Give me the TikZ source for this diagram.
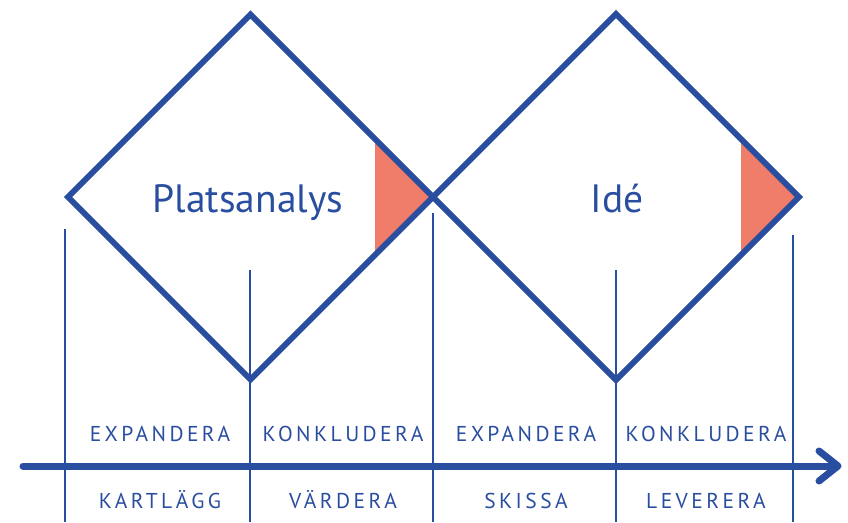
\documentclass[tikz,border=0pt]{standalone}
\usepackage{fontspec}
\setmainfont{PT Sans}
\newfontfamily\labfont[LetterSpace=16]{PT Sans}
\definecolor{dblue}{HTML}{2A4E9F}
\definecolor{dred}{HTML}{F07D69}
\tikzset{
  diam/.style={draw=dblue, line width=5.7pt, miter limit=10, line join=miter},
  tri/.style={fill=dred, draw=none},
  vline/.style={draw=dblue, line width=1.8pt},
  axis/.style={draw=dblue, line width=7pt, line cap=round},
  tip/.style={draw=dblue, line width=7pt, line cap=round, line join=round},
  big/.style={text=dblue, font=\fontsize{39.5}{41}\selectfont, anchor=base},
  lab/.style={text=dblue, font=\labfont\fontsize{21.5}{23}\selectfont, anchor=base},
}
\begin{document}
\begin{tikzpicture}[x=1pt,y=-1pt]
\useasboundingbox (0,0) rectangle (848,522);
% red triangles
\fill[tri] (375,140) -- (433,197) -- (375,254) -- cycle;
\fill[tri] (741,140) -- (799,197) -- (741,254) -- cycle;
% diamonds
\draw[diam] (68,197) -- (250.5,14.5) -- (433,197) -- (250.5,379.5) -- cycle;
\draw[diam] (433,197) -- (616,14) -- (799,197) -- (616,380) -- cycle;
% vertical lines
\coordinate (v1t) at (65,229); \coordinate (v1b) at (65,522);
\coordinate (v2t) at (250,270); \coordinate (v2b) at (250,522);
\coordinate (v3t) at (433,213); \coordinate (v3b) at (433,522);
\coordinate (v4t) at (616,270); \coordinate (v4b) at (616,522);
\coordinate (v5t) at (793,235); \coordinate (v5b) at (793,522);
\draw[vline] (v1t) -- (v1b);
\draw[vline] (v2t) -- (v2b);
\draw[vline] (v3t) -- (v3b);
\draw[vline] (v4t) -- (v4b);
\draw[vline] (v5t) -- (v5b);
% axis
\coordinate (a0) at (23,466);
\coordinate (a1) at (836,466);
\draw[axis] (a0) -- (a1);
\draw[tip] (819,451) -- (838,466) -- (819,481);
% titles
\node[big] (t1) at (248,212) {Platsanalys};
\node[big] (t2) at (617,212) {Idé};
% labels
\node[lab] (e1) at (160,441) {EXPANDERA};
\node[lab] (k1) at (343,441) {KONKLUDERA};
\node[lab] (e2) at (526,441) {EXPANDERA};
\node[lab] (k2) at (706,441) {KONKLUDERA};
\node[lab] (s1) at (160,508) {KARTLÄGG};
\node[lab] (s2) at (343,508) {VÄRDERA};
\node[lab] (s3) at (526,508) {SKISSA};
\node[lab] (s4) at (706,508) {LEVERERA};
\end{tikzpicture}
\end{document}
